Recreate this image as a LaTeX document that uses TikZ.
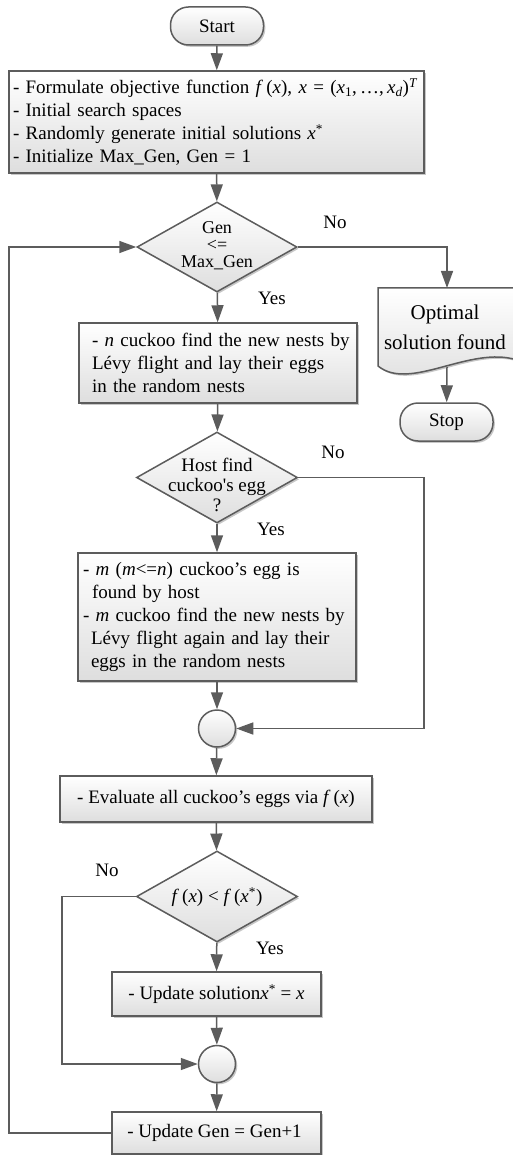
\documentclass[tikz,border=0pt]{standalone}
\usepackage{fontspec}
\setmainfont{Liberation Serif}
\usetikzlibrary{arrows.meta,shadows,shapes.geometric}
\definecolor{lc}{HTML}{5C5C5C}
\tikzset{
  base/.style={draw=lc, line width=1.5pt, font=\fontsize{19}{23}\selectfont, text=black},
  shade/.style={top color=white, bottom color=black!13,
    drop shadow={shadow xshift=1.8pt, shadow yshift=-1.8pt, fill=black, opacity=0.22}},
  proc/.style={base, shade, rectangle, inner sep=0pt},
  term/.style={base, shade, rectangle, rounded corners=18pt, minimum width=93pt, minimum height=38pt, inner sep=0pt},
  dia/.style={base, shade, diamond, inner sep=0pt},
  junc/.style={base, shade, circle, minimum size=37pt, inner sep=0pt},
  conn/.style={draw=lc, line width=1.5pt},
  arr/.style={conn, -{Triangle[length=17pt,width=12pt]}},
  lbl/.style={font=\fontsize{19}{23}\selectfont, inner sep=0pt},
}
\begin{document}
\begin{tikzpicture}[x=1pt,y=-1pt]
\useasboundingbox (0,0) rectangle (513,1155);

% nodes
\node[term] (start) at (217,26) {Start};
\node[proc, minimum width=415pt, minimum height=102pt, inner xsep=4pt, text width=407pt, align=left] (box1) at (216.5,122)
  {\mbox{- Formulate objective function \textit{f}\,(\textit{x}), \textit{x} = (\textit{x}\textsubscript{1},\,\ldots,\,\textit{x}\textsubscript{\textit{d}})\textsuperscript{\textit{T}}}\\
   - Initial search spaces\\
   - Randomly generate initial solutions \textit{x}\textsuperscript{*}\\
   - Initialize Max\_Gen, Gen = 1};
\node[dia, minimum width=160pt, minimum height=90pt] (d1) at (217,247) {};
\node[lbl, align=center, font=\fontsize{18}{17}\selectfont] (d1t) at (217,246) {Gen\\<=\\Max\_Gen};

\node[proc, minimum width=278pt, minimum height=80pt, inner xsep=13pt, text width=252pt, align=left] (box2) at (218,363)
  {\mbox{- \textit{n} cuckoo find the new nests by}\\
   Lévy flight and lay their eggs\\
   in the random nests};

\node[dia, minimum width=161pt, minimum height=91pt] (d2) at (217,477.5) {};
\node[lbl, align=center, font=\fontsize{19}{20}\selectfont] (d2t) at (217,485) {Host find\\cuckoo\textquotesingle s egg\\?};

\node[proc, minimum width=278pt, minimum height=128pt, inner xsep=5pt, text width=268pt, align=left] (box3) at (217,617)
  {- \textit{m} (\textit{m}<=\textit{n}) cuckoo’s egg is\\
   \hspace*{9pt}found by host\\
   \mbox{- \textit{m} cuckoo find the new nests by}\\
   \hspace*{8pt}Lévy flight again and lay their\\
   \hspace*{8pt}eggs in the random nests};

\node[junc] (c1) at (217,728.5) {};

\node[proc, minimum width=312pt, minimum height=46pt] (box4) at (216,799)
  {- Evaluate all cuckoo’s eggs via \textit{f}\,(\textit{x})};

\node[dia, minimum width=161pt, minimum height=91pt] (d3) at (217,896.5) {};
\node[lbl] (d3t) at (217,897) {\textit{f}\,(\textit{x}) < \textit{f}\,(\textit{x}\textsuperscript{*})};

\node[proc, minimum width=209pt, minimum height=44pt] (box5) at (216.5,994)
  {- Update solution\textit{x}\textsuperscript{*} = \textit{x}};

\node[junc] (c2) at (217,1064) {};

\node[proc, minimum width=209pt, minimum height=42pt] (box6) at (216.5,1133)
  {- Update Gen = Gen+1\hspace*{4pt}};

% document shape
\path[base, shade] (378,288) -- (517,288) -- (517,360)
   .. controls (470,345) and (410,392) .. (378,366) -- cycle;
\node[lbl, align=center, minimum width=138pt, minimum height=78pt, font=\fontsize{21}{30}\selectfont] (opt) at (445,327) {Optimal\\solution found};
\coordinate (optb) at (447,367);
\node[term] (stop) at (446.5,422) {Stop};

% labels
\node[lbl] (no1) at (335,222) {No};
\node[lbl] (yes1) at (272,298) {Yes};
\node[lbl] (no2) at (333,452) {No};
\node[lbl] (yes2) at (271,529) {Yes};
\node[lbl] (no3) at (107,870) {No};
\node[lbl] (yes3) at (270,948) {Yes};

% helper coordinates
\coordinate (r2) at (424,477.5);
\coordinate (l3) at (62,896.5);
\coordinate (l1) at (9,247);
\coordinate (optt) at (447,288);

% connectors
\draw[arr] (start) -- (box1);
\draw[arr] (box1) -- (d1);
\draw[arr] (d1.east) -| (optt);
\draw[arr] (optb) -- (stop);
\draw[arr] (d1) -- (box2);
\draw[arr] (box2) -- (d2);
\draw[arr] (d2) -- (box3);
\draw[arr] (d2.east) -- (r2) |- (c1.east);
\draw[arr] (box3) -- (c1);
\draw[arr] (c1) -- (box4);
\draw[arr] (box4) -- (d3);
\draw[arr] (d3) -- (box5);
\draw[arr] (d3.west) -- (l3) |- (c2.west);
\draw[arr] (box5) -- (c2);
\draw[arr] (c2) -- (box6);
\draw[arr] (box6.west) -| (l1) -- (d1.west);
\end{tikzpicture}
\end{document}
